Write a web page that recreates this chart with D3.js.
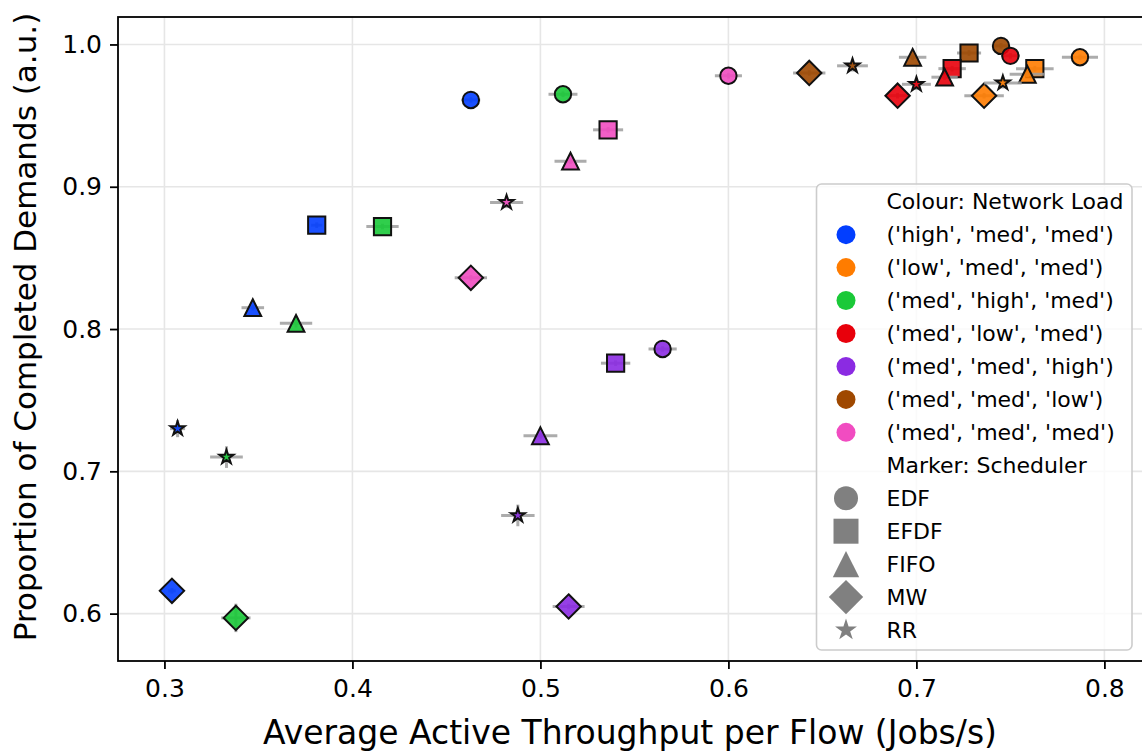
<!DOCTYPE html>
<html>
<head>
<meta charset="utf-8">
<script src="https://cdn.jsdelivr.net/npm/d3@7"></script>
<style>
  html, body { margin: 0; padding: 0; background: #fff; }
  svg { display: block; font-family: "DejaVu Sans", sans-serif; }
</style>
</head>
<body>
<svg id="chart" width="1142" height="754"></svg>
<script>
// Network load configurations (colour) and schedulers (marker)
const loads = [
  "('high', 'med', 'med')",
  "('low', 'med', 'med')",
  "('med', 'high', 'med')",
  "('med', 'low', 'med')",
  "('med', 'med', 'high')",
  "('med', 'med', 'low')",
  "('med', 'med', 'med')"
];
const loadColors = ["#023eff", "#ff7c00", "#1ac938", "#e8000b", "#8b2be2", "#9f4800", "#f14cc1"];
const schedulers = ["EDF", "EFDF", "FIFO", "MW", "RR"];

// Average active throughput per flow (Jobs/s); rows = loads, cols = schedulers
const throughput = [
  [0.463, 0.381, 0.347, 0.304, 0.307],
  [0.787, 0.763, 0.759, 0.736, 0.746],
  [0.512, 0.416, 0.370, 0.338, 0.333],
  [0.750, 0.719, 0.715, 0.690, 0.700],
  [0.565, 0.540, 0.500, 0.515, 0.488],
  [0.745, 0.728, 0.698, 0.643, 0.666],
  [0.600, 0.536, 0.516, 0.463, 0.482]
];
const throughputErr = [
  [0.005, 0.003, 0.006, 0.002, 0.004],
  [0.0096, 0.010, 0.0094, 0.0105, 0.010],
  [0.0077, 0.0086, 0.0086, 0.0078, 0.0087],
  [0.005, 0.0073, 0.007, 0.006, 0.0077],
  [0.0075, 0.0078, 0.009, 0.0085, 0.0089],
  [0.004, 0.0064, 0.0073, 0.0086, 0.0082],
  [0.0072, 0.008, 0.0085, 0.0086, 0.0088]
];
// Proportion of completed demands (a.u.)
const completion = [
  [0.961, 0.873, 0.815, 0.616, 0.730],
  [0.991, 0.983, 0.979, 0.964, 0.973],
  [0.965, 0.872, 0.804, 0.597, 0.710],
  [0.992, 0.983, 0.977, 0.964, 0.972],
  [0.786, 0.776, 0.725, 0.605, 0.669],
  [0.999, 0.994, 0.991, 0.980, 0.985],
  [0.978, 0.940, 0.918, 0.836, 0.889]
];
const completionErr = [
  [0.002, 0.002, 0.002, 0.002, 0.006],
  [0.002, 0.002, 0.002, 0.002, 0.004],
  [0.002, 0.002, 0.003, 0.010, 0.0076],
  [0.002, 0.002, 0.002, 0.002, 0.004],
  [0.002, 0.002, 0.002, 0.002, 0.0076],
  [0.002, 0.002, 0.002, 0.002, 0.004],
  [0.002, 0.002, 0.002, 0.002, 0.004]
];
const xTicks = [0.3, 0.4, 0.5, 0.6, 0.7, 0.8];
const yTicks = [0.6, 0.7, 0.8, 0.9, 1.0];

const svg = d3.select("#chart");
const plot = { left: 118, right: 1145, top: 17, bottom: 661 };

const x = d3.scaleLinear().domain([0.2753, 0.8216]).range([plot.left, plot.right]);
const y = d3.scaleLinear().domain([0.5667, 1.0193]).range([plot.bottom, plot.top]);

// Marker outlines, in pixels, centred on the origin
function starPath(R) {
  const r = R * 0.382, pts = [];
  for (let i = 0; i < 10; i++) {
    const a = -Math.PI / 2 + i * Math.PI / 5;
    const rr = i % 2 ? r : R;
    pts.push([rr * Math.cos(a), rr * Math.sin(a)]);
  }
  return "M" + pts.map(p => p.join(",")).join("L") + "Z";
}
function markerPath(name, s) {
  switch (name) {
    case "EDF": return d3.symbol(d3.symbolCircle, Math.PI * s.r * s.r)();
    case "EFDF": return `M${-s.sq},${-s.sq}H${s.sq}V${s.sq}H${-s.sq}Z`;
    case "FIFO": return `M0,${-s.tr}L${s.tr},${s.tr}L${-s.tr},${s.tr}Z`;
    case "MW": return `M0,${-s.di}L${s.di},0L0,${s.di}L${-s.di},0Z`;
    case "RR": return starPath(s.st);
  }
}
const plotSizes = { r: 8.2, sq: 8.6, tr: 8.4, di: 12.2, st: 7.4 };
const legendSizes = { r: 12, sq: 12.5, tr: 13.2, di: 17.2, st: 11.5 };

// Grid
const grid = svg.append("g");
grid.selectAll(".gx").data(xTicks).join("line")
  .attr("x1", d => x(d)).attr("x2", d => x(d))
  .attr("y1", plot.top).attr("y2", plot.bottom)
  .attr("stroke", "#e6e6e6").attr("stroke-width", 1.6);
grid.selectAll(".gy").data(yTicks).join("line")
  .attr("x1", plot.left).attr("x2", plot.right)
  .attr("y1", d => y(d)).attr("y2", d => y(d))
  .attr("stroke", "#e6e6e6").attr("stroke-width", 1.6);

// Points: error bars then marker, load by load
const points = [];
for (let li = loads.length - 1; li >= 0; li--) {
  schedulers.forEach((s, si) => {
    points.push({ li, s, x: throughput[li][si], y: completion[li][si],
                  xe: throughputErr[li][si], ye: completionErr[li][si] });
  });
}
const marks = svg.append("g");
points.forEach(p => {
  const g = marks.append("g");
  g.append("line")
    .attr("x1", x(p.x - p.xe)).attr("x2", x(p.x + p.xe))
    .attr("y1", y(p.y)).attr("y2", y(p.y))
    .attr("stroke", "#9e9e9e").attr("stroke-opacity", 0.85).attr("stroke-width", 3);
  g.append("line")
    .attr("x1", x(p.x)).attr("x2", x(p.x))
    .attr("y1", y(p.y - p.ye)).attr("y2", y(p.y + p.ye))
    .attr("stroke", "#9e9e9e").attr("stroke-opacity", 0.85).attr("stroke-width", 3);
  g.append("path")
    .attr("d", markerPath(p.s, plotSizes))
    .attr("transform", `translate(${x(p.x)},${y(p.y)})`)
    .attr("fill", loadColors[p.li]).attr("fill-opacity", 0.9)
    .attr("stroke", "#111").attr("stroke-width", 2).attr("stroke-linejoin", "miter");
});

// Axes
const xAxis = svg.append("g").attr("transform", `translate(0,${plot.bottom})`)
  .call(d3.axisBottom(x).tickValues(xTicks).tickFormat(d3.format(".1f")).tickSize(8).tickPadding(10));
const yAxis = svg.append("g").attr("transform", `translate(${plot.left},0)`)
  .call(d3.axisLeft(y).tickValues(yTicks).tickFormat(d3.format(".1f")).tickSize(8).tickPadding(8));
[xAxis, yAxis].forEach(a => {
  a.select(".domain").remove();
  a.selectAll(".tick line").attr("stroke", "#000").attr("stroke-width", 1.8);
  a.selectAll(".tick text").attr("font-size", 25).attr("fill", "#000")
    .attr("font-family", "DejaVu Sans");
});

// Spines (right spine lies past the edge of the figure)
svg.append("rect")
  .attr("x", plot.left).attr("y", plot.top)
  .attr("width", plot.right - plot.left).attr("height", plot.bottom - plot.top)
  .attr("fill", "none").attr("stroke", "#000").attr("stroke-width", 1.8);

// Axis titles
svg.append("text")
  .attr("x", 630).attr("y", 744)
  .attr("text-anchor", "middle").attr("font-size", 33)
  .text("Average Active Throughput per Flow (Jobs/s)");
svg.append("text")
  .attr("transform", `translate(36,327) rotate(-90)`)
  .attr("text-anchor", "middle").attr("font-size", 31)
  .text("Proportion of Completed Demands (a.u.)");

// Legend
const lg = svg.append("g");
lg.append("rect")
  .attr("x", 816.5).attr("y", 184).attr("width", 315.5).attr("height", 466)
  .attr("rx", 5).attr("fill", "#fff").attr("fill-opacity", 0.8)
  .attr("stroke", "#cccccc").attr("stroke-width", 1.6);
const rowY = i => 201.7 + 32.95 * i;
const legendRows = [
  { label: "Colour: Network Load" },
  ...loads.map((l, i) => ({ label: l, color: loadColors[i] })),
  { label: "Marker: Scheduler" },
  ...schedulers.map(s => ({ label: s, marker: s }))
];
legendRows.forEach((row, i) => {
  if (row.color) {
    lg.append("circle").attr("cx", 846).attr("cy", rowY(i)).attr("r", 9.5).attr("fill", row.color);
  } else if (row.marker) {
    lg.append("path").attr("d", markerPath(row.marker, legendSizes))
      .attr("transform", `translate(846,${rowY(i)})`).attr("fill", "#808080");
  }
  lg.append("text").attr("x", 886.5).attr("y", rowY(i))
    .attr("dominant-baseline", "central").attr("font-size", 22).attr("fill", "#000")
    .text(row.label);
});
</script>
</body>
</html>
